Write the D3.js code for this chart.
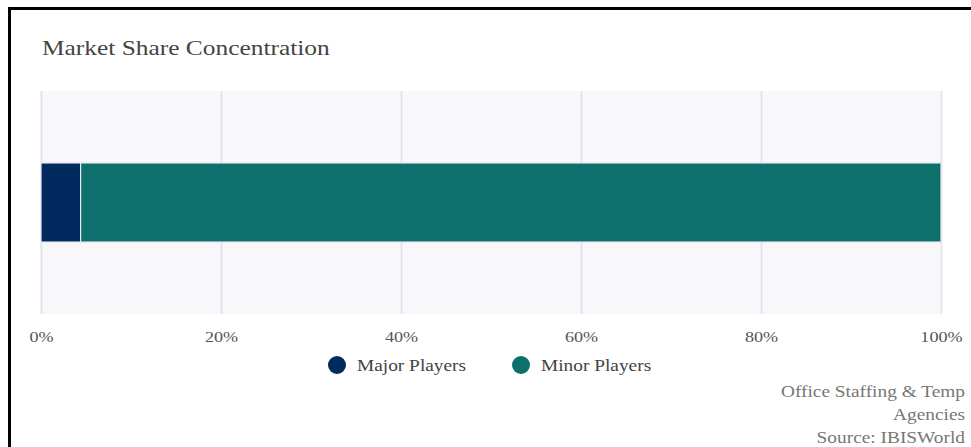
<!DOCTYPE html>
<html>
<head>
<meta charset="utf-8">
<script src="https://cdn.jsdelivr.net/npm/d3@7"></script>
<style>
  html, body { margin: 0; padding: 0; background: #fff; }
  svg { display: block; }
  text { font-family: "Liberation Serif", "Times New Roman", serif; }
</style>
</head>
<body>
<svg id="chart" width="971" height="447"></svg>
<script>
// Market share split between major and minor players
const segments = ["Major Players", "Minor Players"];
const shares = [4.4, 95.6];
const colors = ["#012a5e", "#0d706c"];
const tickValues = [0, 20, 40, 60, 80, 100];
const sourceLines = ["Office Staffing & Temp", "Agencies", "Source: IBISWorld"];

const svg = d3.select("#chart");
const W = 971, H = 447;
const STRETCH = 1.21; // wide lettering

// place a horizontally widened text label at (x, y)
function label(parent, x, y, str, opts) {
  const g = parent.append("g").attr("transform", `translate(${x},${y}) scale(${STRETCH},1)`);
  return g.append("text")
    .attr("text-anchor", opts.anchor || "start")
    .attr("font-size", opts.size)
    .attr("fill", opts.fill)
    .text(str);
}

// frame edges (top and left)
svg.append("line").attr("x1", 8).attr("x2", W).attr("y1", 8.5).attr("y2", 8.5)
  .attr("stroke", "#000").attr("stroke-width", 3);
svg.append("line").attr("x1", 9.5).attr("x2", 9.5).attr("y1", 7).attr("y2", H)
  .attr("stroke", "#000").attr("stroke-width", 3);

label(svg, 42, 55, "Market Share Concentration", { size: 21, fill: "#444" });

const plot = { left: 41, right: 941, top: 91, bottom: 314 };
const x = d3.scaleLinear().domain([0, 100]).range([plot.left, plot.right]);
const y = d3.scaleBand().domain(["share"]).range([plot.top, plot.bottom]).paddingInner(0).paddingOuter(0.91);

svg.append("rect").attr("x", plot.left - 1).attr("y", plot.top)
  .attr("width", plot.right - plot.left + 2).attr("height", plot.bottom - plot.top)
  .attr("fill", "#f8f8fa");

// vertical gridlines
svg.append("g").selectAll("line").data(tickValues).join("line")
  .attr("x1", d => x(d) + 0.5).attr("x2", d => x(d) + 0.5)
  .attr("y1", plot.top).attr("y2", plot.bottom)
  .attr("stroke", "#e1e0ec").attr("stroke-width", 1.6);

// stacked bar
let acc = 0;
const stacked = shares.map((v, i) => { const s = { start: acc, end: acc + v, color: colors[i] }; acc += v; return s; });
svg.append("g").selectAll("rect").data(stacked).join("rect")
  .attr("x", d => x(d.start)).attr("width", d => x(d.end) - x(d.start))
  .attr("y", y("share")).attr("height", y.bandwidth())
  .attr("fill", d => d.color)
  .attr("stroke", "#e8eaf2").attr("stroke-width", 1.2);

// x axis labels
const axis = d3.axisBottom(x).tickValues(tickValues).tickFormat(d => d + "%").tickSize(0).tickPadding(0);
const ag = svg.append("g").attr("transform", `translate(0, ${plot.bottom + 28})`).call(axis);
ag.select(".domain").remove();
ag.selectAll(".tick text")
  .attr("font-size", 15).attr("fill", "#555")
  .attr("font-family", "Liberation Serif, serif").attr("dy", 0)
  .attr("transform", `scale(${STRETCH},1)`);

// legend
const legendX = [337, 521];
const lg = svg.append("g").selectAll("g").data(segments).join("g")
  .attr("transform", (d, i) => `translate(${legendX[i]}, 365)`);
lg.append("circle").attr("r", 9).attr("fill", (d, i) => colors[i]);
lg.each(function (d) { label(d3.select(this), 20, 6, d, { size: 16, fill: "#444" }); });

// source note
sourceLines.forEach((d, i) =>
  label(svg, 965, 397 + i * 23, d, { size: 16, fill: "#777", anchor: "end" }));
</script>
</body>
</html>
